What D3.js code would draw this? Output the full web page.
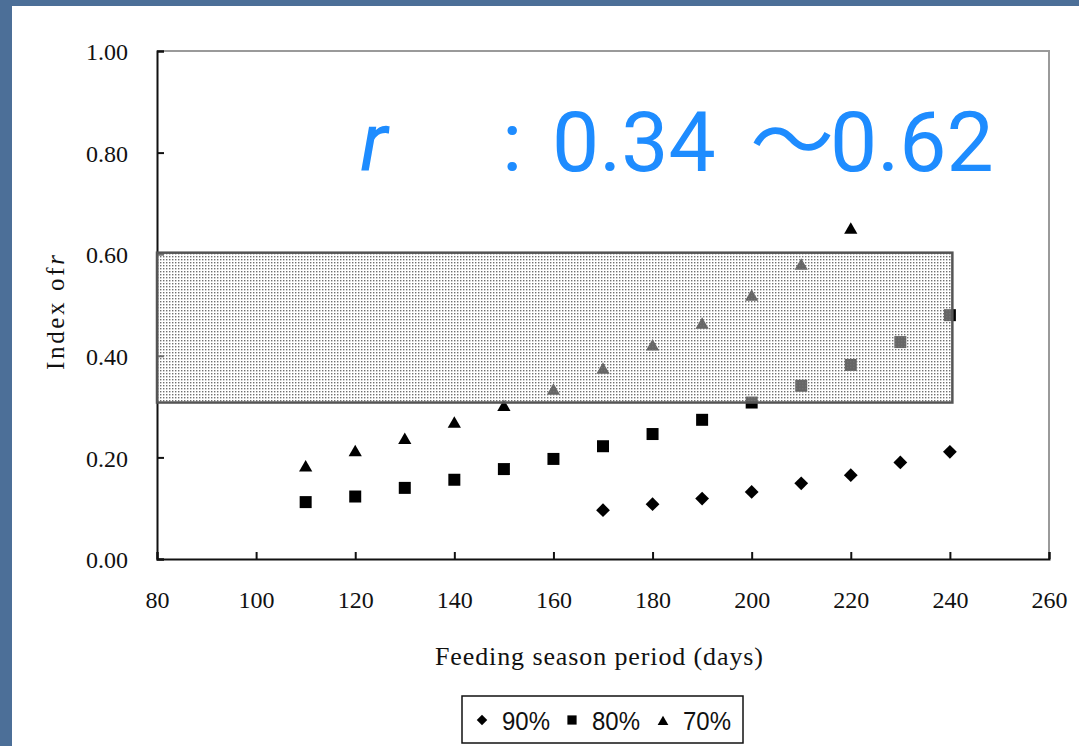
<!DOCTYPE html>
<html>
<head>
<meta charset="utf-8">
<script src="https://cdn.jsdelivr.net/npm/d3@7"></script>
<style>
  body { margin: 0; background: #4c6f98; }
  svg { display: block; }
</style>
</head>
<body>
<script>
// data
const days = [110, 120, 130, 140, 150, 160, 170, 180, 190, 200, 210, 220, 230, 240];
const days90 = [170, 180, 190, 200, 210, 220, 230, 240];
const r90 = [0.096, 0.108, 0.119, 0.132, 0.149, 0.165, 0.190, 0.211];
const r80 = [0.112, 0.123, 0.140, 0.156, 0.177, 0.197, 0.222, 0.246, 0.274, 0.308, 0.341, 0.382, 0.427, 0.480];
const days70 = [110, 120, 130, 140, 150, 160, 170, 180, 190, 200, 210, 220];
const r70 = [0.180, 0.210, 0.234, 0.266, 0.299, 0.331, 0.372, 0.418, 0.461, 0.516, 0.577, 0.648];
const xTicks = [80, 100, 120, 140, 160, 180, 200, 220, 240, 260];
const yTicks = [0, 0.2, 0.4, 0.6, 0.8, 1.0];
const bandX = [80, 240.5];
const bandY = [0.308, 0.603];
const legendLabels = ["90%", "80%", "70%"];

const w = 1079, h = 746;

const svg = d3.select("body").append("svg")
  .attr("width", w)
  .attr("height", h);

// white slide panel on blue background
svg.append("rect").attr("width", w).attr("height", h).attr("fill", "#4c6f98");
svg.append("rect").attr("x", 12).attr("y", 6).attr("width", w - 12).attr("height", h - 6).attr("fill", "#fff");

const defs = svg.append("defs");
const pat = defs.append("pattern")
  .attr("id", "dots")
  .attr("patternUnits", "userSpaceOnUse")
  .attr("width", 3).attr("height", 3);
pat.append("rect").attr("width", 3).attr("height", 3).attr("fill", "#fff").attr("fill-opacity", 0.4);
pat.append("rect").attr("x", 1).attr("y", 1).attr("width", 1.4).attr("height", 1.4).attr("fill", "#707070");

const xScale = d3.scaleLinear().domain([80, 260]).range([157, 1049]);
const yScale = d3.scaleLinear().domain([0, 1]).range([559, 51]);

// frame: top and right grey
svg.append("path")
  .attr("d", "M" + xScale(80) + "," + yScale(1) + "H" + xScale(260) + "V" + yScale(0))
  .attr("fill", "none").attr("stroke", "#9a9a9a").attr("stroke-width", 2);

const xAxis = d3.axisBottom(xScale).tickValues(xTicks).tickSize(-7).tickPadding(0).tickFormat(d => d);
const gx = svg.append("g").attr("transform", "translate(0," + yScale(0) + ")").call(xAxis);
gx.select(".domain").attr("stroke", "#111").attr("stroke-width", 2);
gx.selectAll(".tick line").attr("stroke", "#111").attr("stroke-width", 2);
gx.selectAll(".tick text").attr("y", 49).attr("dy", null)
  .style("font-family", "Liberation Serif").style("font-size", "24px").attr("fill", "#111");

const yAxis = d3.axisLeft(yScale).tickValues(yTicks).tickSize(-7).tickPadding(0).tickFormat(d3.format(".2f"));
const gy = svg.append("g").attr("transform", "translate(" + xScale(80) + ",0)").call(yAxis);
gy.select(".domain").attr("stroke", "#111").attr("stroke-width", 2);
gy.selectAll(".tick line").attr("stroke", "#111").attr("stroke-width", 2);
gy.selectAll(".tick text").attr("x", -29).attr("dy", "0.36em")
  .style("font-family", "Liberation Serif").style("font-size", "24px").attr("fill", "#111");

// symbols
const diamond = d3.symbol().type(d3.symbolSquare).size(95);
const square = d3.symbol().type(d3.symbolSquare).size(144);
const triangle = d3.symbol().type(d3.symbolTriangle).size(76);

svg.selectAll(".p90").data(r90).enter().append("path")
  .attr("class", "p90")
  .attr("d", diamond())
  .attr("transform", (d, i) => "translate(" + xScale(days90[i]) + "," + yScale(d) + ") rotate(45)")
  .attr("fill", "#000");

svg.selectAll(".p80").data(r80).enter().append("path")
  .attr("class", "p80")
  .attr("d", square())
  .attr("transform", (d, i) => "translate(" + xScale(days[i]) + "," + yScale(d) + ")")
  .attr("fill", "#000");

svg.selectAll(".p70").data(r70).enter().append("path")
  .attr("class", "p70")
  .attr("d", triangle())
  .attr("transform", (d, i) => "translate(" + xScale(days70[i]) + "," + yScale(d) + ")")
  .attr("fill", "#000");

// shaded band drawn over the points
svg.append("rect")
  .attr("x", xScale(bandX[0]))
  .attr("y", yScale(bandY[1]))
  .attr("width", xScale(bandX[1]) - xScale(bandX[0]))
  .attr("height", yScale(bandY[0]) - yScale(bandY[1]))
  .attr("fill", "url(#dots)")
  .attr("stroke", "#555")
  .attr("stroke-width", 2.5);

// axis titles
svg.append("text")
  .attr("x", 435).attr("y", 665)
  .attr("textLength", 328).attr("lengthAdjust", "spacing")
  .style("font-family", "Liberation Serif").style("font-size", "26px").attr("fill", "#111")
  .text("Feeding season period (days)");

const yl = svg.append("text")
  .attr("transform", "translate(64,370) rotate(-90)")
  .attr("textLength", 115).attr("lengthAdjust", "spacing")
  .style("font-family", "Liberation Serif").style("font-size", "25px").attr("fill", "#111");
yl.append("tspan").text("Index of");
yl.append("tspan").style("font-style", "italic").text("r");

// range annotation
const note = svg.append("g").attr("fill", "#1e8cff").style("font-family", "Roboto").style("font-size", "84px");
note.append("text").attr("x", 360).attr("y", 171).style("font-style", "italic").text("r");
note.append("text").attr("x", 502).attr("y", 171).text(":");
note.append("text").attr("x", 552).attr("y", 171).text("0.34");
note.append("text").attr("x", 750).attr("y", 171).style("font-family", "Noto Sans CJK JP").text("～");
note.append("text").attr("x", 830).attr("y", 171).text("0.62");

// legend
svg.append("rect")
  .attr("x", 462).attr("y", 696).attr("width", 281).attr("height", 47)
  .attr("fill", "#fff").attr("stroke", "#111").attr("stroke-width", 1.5);

const legendX = [482, 572, 663];
const legendSym = [
  d3.symbol().type(d3.symbolSquare).size(55)(),
  d3.symbol().type(d3.symbolSquare).size(85)(),
  d3.symbol().type(d3.symbolTriangle).size(50)()
];
const lg = svg.selectAll(".leg").data(legendLabels).enter().append("g").attr("class", "leg");
lg.append("path")
  .attr("d", (d, i) => legendSym[i])
  .attr("transform", (d, i) => "translate(" + legendX[i] + "," + (i == 2 ? 722 : 720) + ")" + (i == 0 ? " rotate(45)" : ""))
  .attr("fill", "#000");
lg.append("text")
  .attr("x", (d, i) => legendX[i] + 20)
  .attr("y", 730)
  .attr("textLength", 48).attr("lengthAdjust", "spacingAndGlyphs")
  .style("font-family", "Liberation Sans").style("font-size", "26px").attr("fill", "#111")
  .text(d => d);
</script>
</body>
</html>
